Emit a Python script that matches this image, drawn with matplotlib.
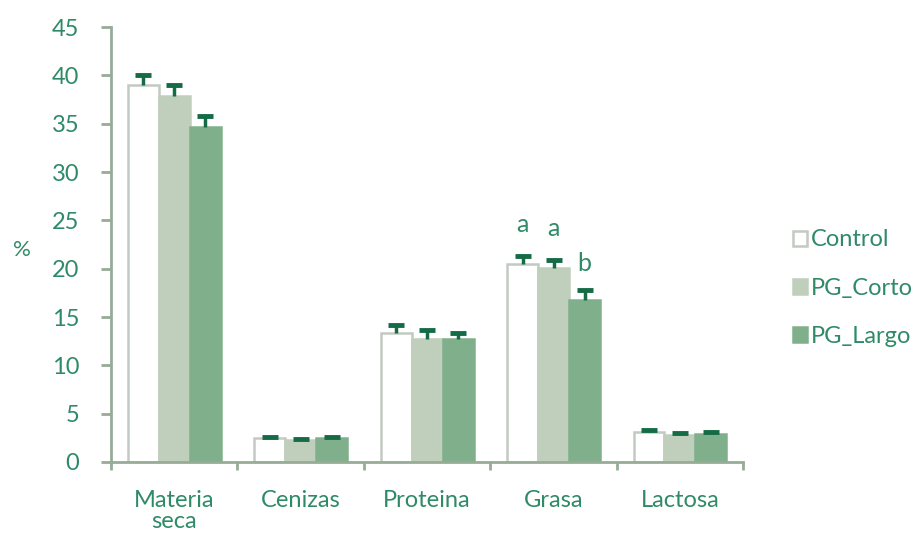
import numpy as np
import matplotlib.pyplot as plt
from matplotlib.ticker import FixedLocator

# composicion (%) por grupo
categorias = ['Materia\nseca', 'Cenizas', 'Proteina', 'Grasa', 'Lactosa']
grupos = ['Control', 'PG_Corto', 'PG_Largo']
control = [39.0, 2.5, 13.3, 20.5, 3.1]
pg_corto = [37.9, 2.3, 12.7, 20.1, 2.8]
pg_largo = [34.7, 2.5, 12.7, 16.8, 2.9]
err_control = [1.0, 0.1, 0.9, 0.8, 0.2]
err_corto = [1.1, 0.1, 1.0, 0.8, 0.2]
err_largo = [1.1, 0.1, 0.6, 1.0, 0.2]
letras = {3: ['a', 'a', 'b']}  # letras de significancia en Grasa

txt = '#2f8a68'
eje = '#97ab97'
colores = ['white', '#bfcfbc', '#7fb08b']
bordes = ['#c3c9c3', '#bfcfbc', '#7fb08b']

plt.rcParams['font.family'] = ['Lato', 'DejaVu Sans']

fig = plt.figure(figsize=(9.13, 5.47), dpi=100)
ax = fig.add_axes([0.1216, 0.1554, 0.6924, 0.7952])

x = np.arange(len(categorias))
w = 0.245
series = [control, pg_corto, pg_largo]
errores = [err_control, err_corto, err_largo]
for i in range(3):
    pos = x + (i - 1) * w
    ax.bar(pos, series[i], w, color=colores[i], edgecolor=bordes[i],
           linewidth=1.8, label=grupos[i], zorder=2)
    eb = ax.errorbar(pos, series[i], yerr=[np.zeros(len(x)), errores[i]],
                     fmt='none', ecolor='#146b45', elinewidth=2.5,
                     capsize=6, capthick=3.5, zorder=3)
    eb[1][0].set_visible(False)  # solo la barra superior

for k, ls in letras.items():
    for i, l in enumerate(ls):
        y = series[i][k] + errores[i][k] + (3.3 if l == 'a' else 2.7)
        ax.text(x[k] + (i - 1) * w, y, l, color=txt, fontsize=18,
                ha='center', va='center')

ax.set_xlim(-0.5, len(categorias) - 0.5)
ax.set_ylim(0, 45)
ax.set_yticks(range(0, 46, 5))
ax.set_xticks(x)
ax.set_xticklabels(categorias, color=txt, fontsize=17, linespacing=1.0)
ax.xaxis.set_minor_locator(FixedLocator(np.arange(-0.5, len(categorias), 1)))
ax.tick_params(axis='x', which='major', length=0, pad=20)
ax.tick_params(axis='x', which='minor', length=6, width=2, color=eje, direction='out')
ax.tick_params(axis='y', length=7, width=2, color=eje, labelcolor=txt,
               labelsize=17, pad=16)

for s in ['top', 'right']:
    ax.spines[s].set_visible(False)
for s in ['left', 'bottom']:
    ax.spines[s].set_color(eje)
    ax.spines[s].set_linewidth(2)

fig.text(0.024, 0.543, '%', color=txt, fontsize=16, ha='center', va='center')

leg = ax.legend(loc='center left', bbox_to_anchor=(1.045, 0.40), frameon=False,
                fontsize=17, labelspacing=1.15, handlelength=0.6,
                handleheight=0.6, handletextpad=0.15)
for t in leg.get_texts():
    t.set_color(txt)

fig.savefig('out.png', dpi=100)
